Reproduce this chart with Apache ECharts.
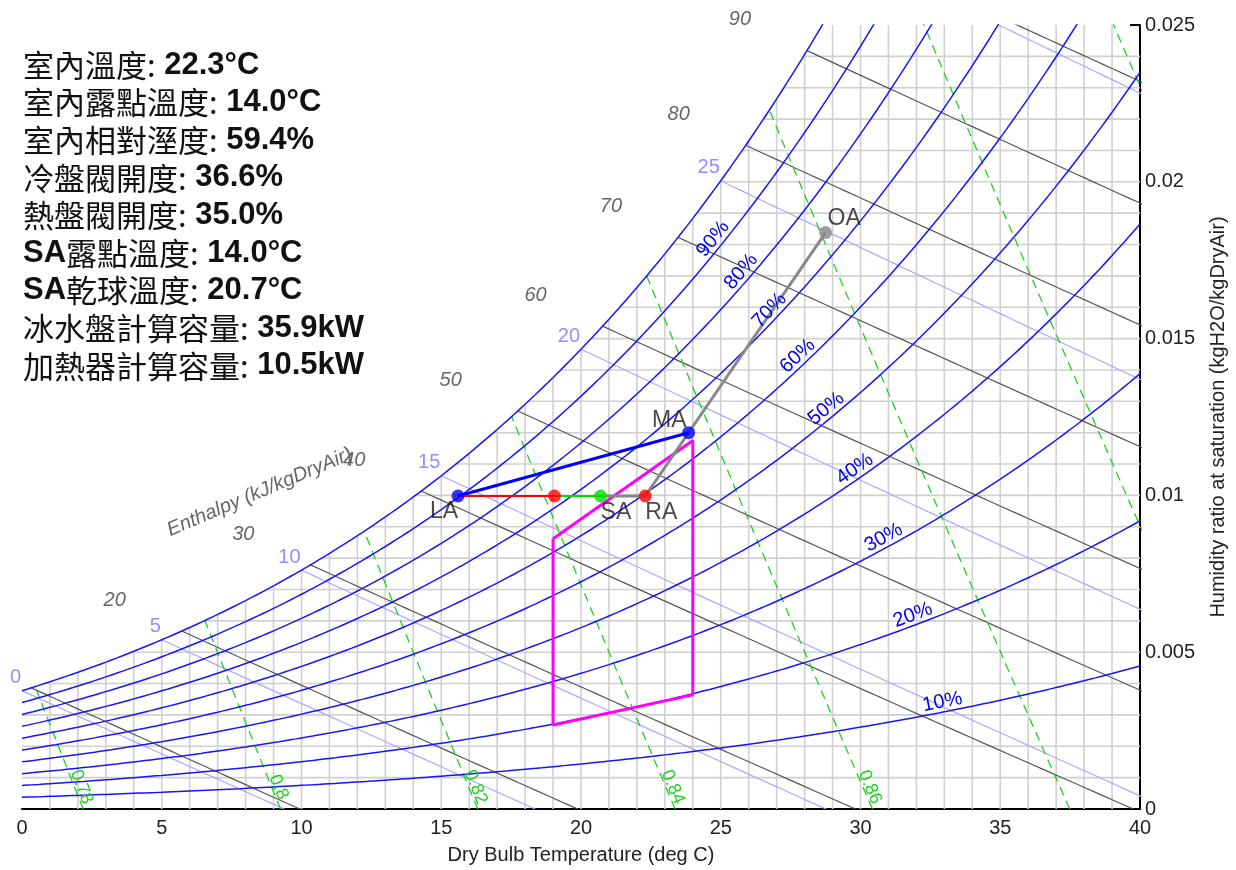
<!DOCTYPE html>
<html>
<head>
<meta charset="utf-8">
<script src="https://cdn.jsdelivr.net/npm/echarts@6/dist/echarts.min.js"></script>
<style>
  html, body { margin: 0; padding: 0; background: #ffffff; }
  #chart { width: 1236px; height: 870px; }
</style>
</head>
<body>
<div id="chart"></div>
<script>
// ---- axes ----
const xRange = [0, 40];
const yRange = [0, 0.025];
const xInterval = 5;
const yInterval = 0.005;

// ---- psychrometric line families ----
const rhLevels = [0.1, 0.2, 0.3, 0.4, 0.5, 0.6, 0.7, 0.8, 0.9, 1.0];
const rhLabelTemps = [33, 32, 31, 30, 29, 28, 27, 26, 25];           // 10% .. 90%
const enthalpyLevels = [10, 20, 30, 40, 50, 60, 70, 80, 90, 100];   // kJ/kgDryAir
const enthalpyLabelLevels = [20, 30, 40, 50, 60, 70, 80, 90];
const wetBulbLevels = [0, 5, 10, 15, 20, 25, 30];                     // deg C
const wetBulbLabelLevels = [0, 5, 10, 15, 20, 25];
const volumeLevels = [0.78, 0.80, 0.82, 0.84, 0.86, 0.88, 0.90, 0.92]; // m3/kg
const volumeLabels = ['0.78', '0.8', '0.82', '0.84', '0.86'];

// ---- air states (dry bulb deg C, humidity ratio kg/kg) ----
const pointNames = ['LA', 'HC', 'SA', 'RA', 'MA', 'OA'];
const pointTemps = [15.6, 19.05, 20.7, 22.3, 23.85, 28.75];
const pointHumidity = [0.00998, 0.00998, 0.00998, 0.00998, 0.01200, 0.01838];

// ---- comfort zone outline ----
const zoneTemps = [19, 19, 24, 24, 19];
const zoneHumidity = [0.00862, 0.00268, 0.00364, 0.01175, 0.00862];

// ---- status panel ----
const infoLabels = ['室內溫度', '室內露點溫度', '室內相對溼度', '冷盤閥開度', '熱盤閥開度',
                    'SA露點溫度', 'SA乾球溫度', '冰水盤計算容量', '加熱器計算容量'];
const infoValues = ['22.3°C', '14.0°C', '59.4%', '36.6%', '35.0%', '14.0°C', '20.7°C', '35.9kW', '10.5kW'];

// ---- psychrometric relations (sea-level pressure) ----
const P_ATM = 101.325;
function pws(t) { return 0.61094 * Math.exp(17.625 * t / (t + 243.04)); }
function wFromPw(pw) { return 0.622 * pw / (P_ATM - pw); }
function wSat(t) { return wFromPw(pws(t)); }
function wRh(t, phi) { return wFromPw(phi * pws(t)); }
function wEnth(t, h) { return (h - 1.006 * t) / (2501 + 1.86 * t); }
function wWetBulb(t, twb) {
  return ((2501 - 2.326 * twb) * wSat(twb) - 1.006 * (t - twb)) / (2501 + 1.86 * t - 4.186 * twb);
}
function tVolume(w, v) { return v * P_ATM / (0.287042 * (1 + 1.607858 * w)) - 273.15; }
function bisect(f, a, b) {
  let fa = f(a);
  for (let i = 0; i < 60; i++) {
    const m = (a + b) / 2, fm = f(m);
    if ((fm > 0) === (fa > 0)) { a = m; fa = fm; } else { b = m; }
  }
  return (a + b) / 2;
}
function tDew(w) { return bisect(t => wSat(t) - w, -30, 70); }
function tSatEnthalpy(h) { return bisect(t => wSat(t) - wEnth(t, h), -30, 70); }

// ---- build curves ----
function rhCurve(phi) {
  const pts = [];
  for (let t = 0; t <= 40.001; t += 0.2) {
    const w = wRh(t, phi);
    pts.push([t, w]);
    if (w > yRange[1] * 1.05) break;
  }
  return pts;
}
function enthalpyCurve(h) {
  const t0 = tSatEnthalpy(h);
  const t1 = Math.min(h / 1.006, 40.5);
  const pts = [];
  const n = 40;
  for (let i = 0; i <= n; i++) {
    const t = t0 + (t1 - t0) * i / n;
    pts.push([t, wEnth(t, h)]);
  }
  return pts;
}
function wetBulbCurve(twb) {
  const t1 = Math.min(twb + (2501 - 2.326 * twb) * wSat(twb) / 1.006, 40.5);
  const pts = [];
  const n = 40;
  for (let i = 0; i <= n; i++) {
    const t = twb + (t1 - twb) * i / n;
    pts.push([t, wWetBulb(t, twb)]);
  }
  return pts;
}
function volumeCurve(v) {
  const wTop = bisect(w => wSat(tVolume(w, v)) - w, 0, 0.06);
  const pts = [];
  const n = 40;
  for (let i = 0; i <= n; i++) {
    const w = wTop * i / n;
    pts.push([tVolume(w, v), w]);
  }
  return pts;
}

// grid segments drawn only under the saturation curve
const gridSegments = [];
for (let t = 1; t < 40; t++) {
  gridSegments.push([t, 0, t, Math.min(wSat(t), yRange[1])]);
}
for (let k = 1; k < 25; k++) {
  const w = k * 0.001;
  gridSegments.push([Math.max(0, tDew(w)), w, 40, w]);
}

const series = [];
series.push({
  type: 'custom',
  silent: true,
  z: 1,
  encode: { x: [0, 2], y: [1, 3] },
  data: gridSegments,
  renderItem: (params, api) => {
    const p1 = api.coord([api.value(0), api.value(1)]);
    const p2 = api.coord([api.value(2), api.value(3)]);
    return { type: 'line', shape: { x1: p1[0], y1: p1[1], x2: p2[0], y2: p2[1] },
             style: { stroke: '#d0d0d0', lineWidth: 1.6 } };
  }
});

function curveSeries(data, color, width, type, z) {
  return { type: 'line', data, showSymbol: false, symbol: 'none', silent: true, clip: true, z,
           lineStyle: { color, width, type: type || 'solid' } };
}
wetBulbLevels.forEach(t => series.push(curveSeries(wetBulbCurve(t), '#a9a9ff', 1.2, null, 2)));
enthalpyLevels.forEach(h => series.push(curveSeries(enthalpyCurve(h), '#555555', 1.2, null, 3)));
volumeLevels.forEach(v => series.push(curveSeries(volumeCurve(v), '#1fd11f', 1.3, [9, 6], 3)));
rhLevels.forEach(phi => series.push(curveSeries(rhCurve(phi), '#1515ff', 1.5, null, 4)));

// comfort zone
series.push({
  type: 'line', silent: true, showSymbol: false, symbol: 'none', z: 5,
  data: zoneTemps.map((t, i) => [t, zoneHumidity[i]]),
  lineStyle: { color: '#ff00ff', width: 3 }
});

// process lines
function st(name) { const i = pointNames.indexOf(name); return [pointTemps[i], pointHumidity[i]]; }
function processLine(a, b, color, width) {
  return { type: 'line', silent: true, showSymbol: false, symbol: 'none', z: 6,
           data: [st(a), st(b)], lineStyle: { color, width } };
}
series.push(processLine('OA', 'RA', '#888888', 3));
series.push(processLine('SA', 'RA', '#888888', 3));
series.push(processLine('MA', 'LA', '#0000ff', 3));
series.push(processLine('LA', 'HC', '#ff0000', 2));
series.push(processLine('HC', 'SA', '#00dd00', 2));

// state points
const pointColors = { LA: '#0000ff', HC: '#ff0000', SA: '#00dd00', RA: '#ff0000', MA: '#0000ff', OA: '#888888' };
const labelPlacement = {
  LA: { align: 'right', verticalAlign: 'top', offset: [0, 4] },
  SA: { align: 'left', verticalAlign: 'top', offset: [0, 5] },
  RA: { align: 'left', verticalAlign: 'top', offset: [0, 5] },
  MA: { align: 'right', verticalAlign: 'bottom', offset: [-2, -1] },
  OA: { align: 'left', verticalAlign: 'bottom', offset: [2, -2] }
};
series.push({
  type: 'scatter', z: 8, silent: true, symbolSize: 13,
  data: pointNames.map((n, i) => {
    const item = { value: [pointTemps[i], pointHumidity[i]], name: n, itemStyle: { color: pointColors[n] } };
    if (labelPlacement[n]) {
      item.label = Object.assign({
        show: true, position: 'inside', formatter: n, color: '#1a1a1a',
        fontSize: 23, fontFamily: 'Liberation Sans'
      }, labelPlacement[n]);
    } else {
      item.label = { show: false };
    }
    return item;
  })
});

const axisFont = { fontSize: 20, color: '#222222', fontFamily: 'Liberation Sans' };

const option = {
  animation: false,
  backgroundColor: '#ffffff',
  grid: { left: 22, right: 89, top: 25, bottom: 59, containLabel: false },
  xAxis: {
    type: 'value', min: xRange[0], max: xRange[1], interval: xInterval,
    name: 'Dry Bulb Temperature (deg C)', nameLocation: 'middle', nameGap: 36,
    nameTextStyle: axisFont,
    axisLine: { show: true, onZero: false, lineStyle: { color: '#000000', width: 2 } },
    axisTick: { show: false },
    axisLabel: Object.assign({ margin: 9 }, axisFont),
    splitLine: { show: false }
  },
  yAxis: {
    type: 'value', position: 'right', min: yRange[0], max: yRange[1], interval: yInterval,
    name: 'Humidity ratio at saturation (kgH2O/kgDryAir)', nameLocation: 'middle', nameGap: 68,
    nameRotate: 90, nameTextStyle: axisFont,
    axisLine: { show: true, onZero: false, lineStyle: { color: '#000000', width: 2 } },
    axisTick: { show: false },
    axisLabel: Object.assign({ margin: 5, formatter: v => String(parseFloat(v.toFixed(3))) }, axisFont),
    splitLine: { show: false }
  },
  series
};

const chart = echarts.init(document.getElementById('chart'), null, { renderer: 'canvas' });
chart.setOption(option);

// ---- annotations placed through the axes ----
const px = p => chart.convertToPixel({ xAxisIndex: 0, yAxisIndex: 0 }, p);
const graphics = [];

// relative humidity labels along their curves
rhLevels.slice(0, 9).forEach((phi, i) => {
  const t = rhLabelTemps[i];
  const a = px([t - 0.15, wRh(t - 0.15, phi)]);
  const b = px([t + 0.15, wRh(t + 0.15, phi)]);
  const c = px([t, wRh(t, phi)]);
  const dx = b[0] - a[0], dy = b[1] - a[1], len = Math.hypot(dx, dy);
  const nx = dy / len, ny = -dx / len;
  graphics.push({
    type: 'text', x: c[0] + nx * 10, y: c[1] + ny * 10, rotation: Math.atan2(-dy, dx), silent: true, z: 10,
    style: { text: Math.round(phi * 100) + '%', fill: '#0000e6', fontSize: 20, fontFamily: 'Liberation Sans',
             align: 'center', verticalAlign: 'middle' }
  });
});

// enthalpy labels beyond the saturation curve
enthalpyLabelLevels.forEach(h => {
  const t = tSatEnthalpy(h) - 2.4;
  const c = px([t, wEnth(t, h)]);
  graphics.push({
    type: 'text', x: c[0], y: c[1], silent: true, z: 10,
    style: { text: String(h), fill: '#666666', fontSize: 20, fontStyle: 'italic', fontFamily: 'Liberation Sans',
             align: 'center', verticalAlign: 'middle' }
  });
});
{
  const c = px([8.5, 0.0101]);
  graphics.push({
    type: 'text', x: c[0], y: c[1], rotation: 23 * Math.PI / 180, silent: true, z: 10,
    style: { text: 'Enthalpy (kJ/kgDryAir)', fill: '#666666', fontSize: 20, fontStyle: 'italic',
             fontFamily: 'Liberation Sans', align: 'center', verticalAlign: 'middle' }
  });
}

// wet bulb labels at the saturation curve
wetBulbLabelLevels.forEach(twb => {
  const c = px([twb, wSat(twb)]);
  graphics.push({
    type: 'text', x: c[0] - 1, y: c[1] - 13, silent: true, z: 10,
    style: { text: String(twb), fill: '#9090ff', fontSize: 20, fontFamily: 'Liberation Sans',
             align: 'right', verticalAlign: 'middle' }
  });
});

// specific volume labels near the bottom
volumeLabels.forEach((lab, i) => {
  const v = volumeLevels[i];
  const wl = 0.0007, wu = 0.0017;
  const a = px([tVolume(wu, v), wu]);
  const b = px([tVolume(wl, v), wl]);
  const dx = b[0] - a[0], dy = b[1] - a[1];
  graphics.push({
    type: 'text', x: b[0] + 7, y: b[1], rotation: Math.atan2(-dy, dx), silent: true, z: 10,
    style: { text: lab, fill: '#1fd11f', fontSize: 18, fontFamily: 'Liberation Sans',
             align: 'center', verticalAlign: 'middle' }
  });
});

// top tick of the humidity axis
{
  const c = px([xRange[1], yRange[1]]);
  graphics.push({ type: 'line', silent: true, z: 10,
    shape: { x1: c[0] - 10, y1: c[1], x2: c[0], y2: c[1] },
    style: { stroke: '#000000', lineWidth: 2 } });
}

// status panel
infoLabels.forEach((lab, i) => {
  const m = lab.match(/^([A-Za-z]*)(.*)$/);
  let text = '';
  if (m[1]) text += '{n|' + m[1] + '}';
  text += '{c|' + m[2] + ':}{n| ' + infoValues[i] + '}';
  graphics.push({
    type: 'text', x: 23, y: 65 + i * 37.6, silent: true, z: 10,
    style: {
      text, verticalAlign: 'middle', align: 'left',
      rich: {
        c: { fontFamily: '"Noto Sans CJK TC"', fontSize: 31, fill: '#111111', color: '#111111' },
        n: { fontFamily: '"Liberation Sans"', fontSize: 31, fontWeight: 'bold', fill: '#111111', color: '#111111' }
      }
    }
  });
});

chart.setOption({ graphic: { elements: graphics } });
</script>
</body>
</html>
